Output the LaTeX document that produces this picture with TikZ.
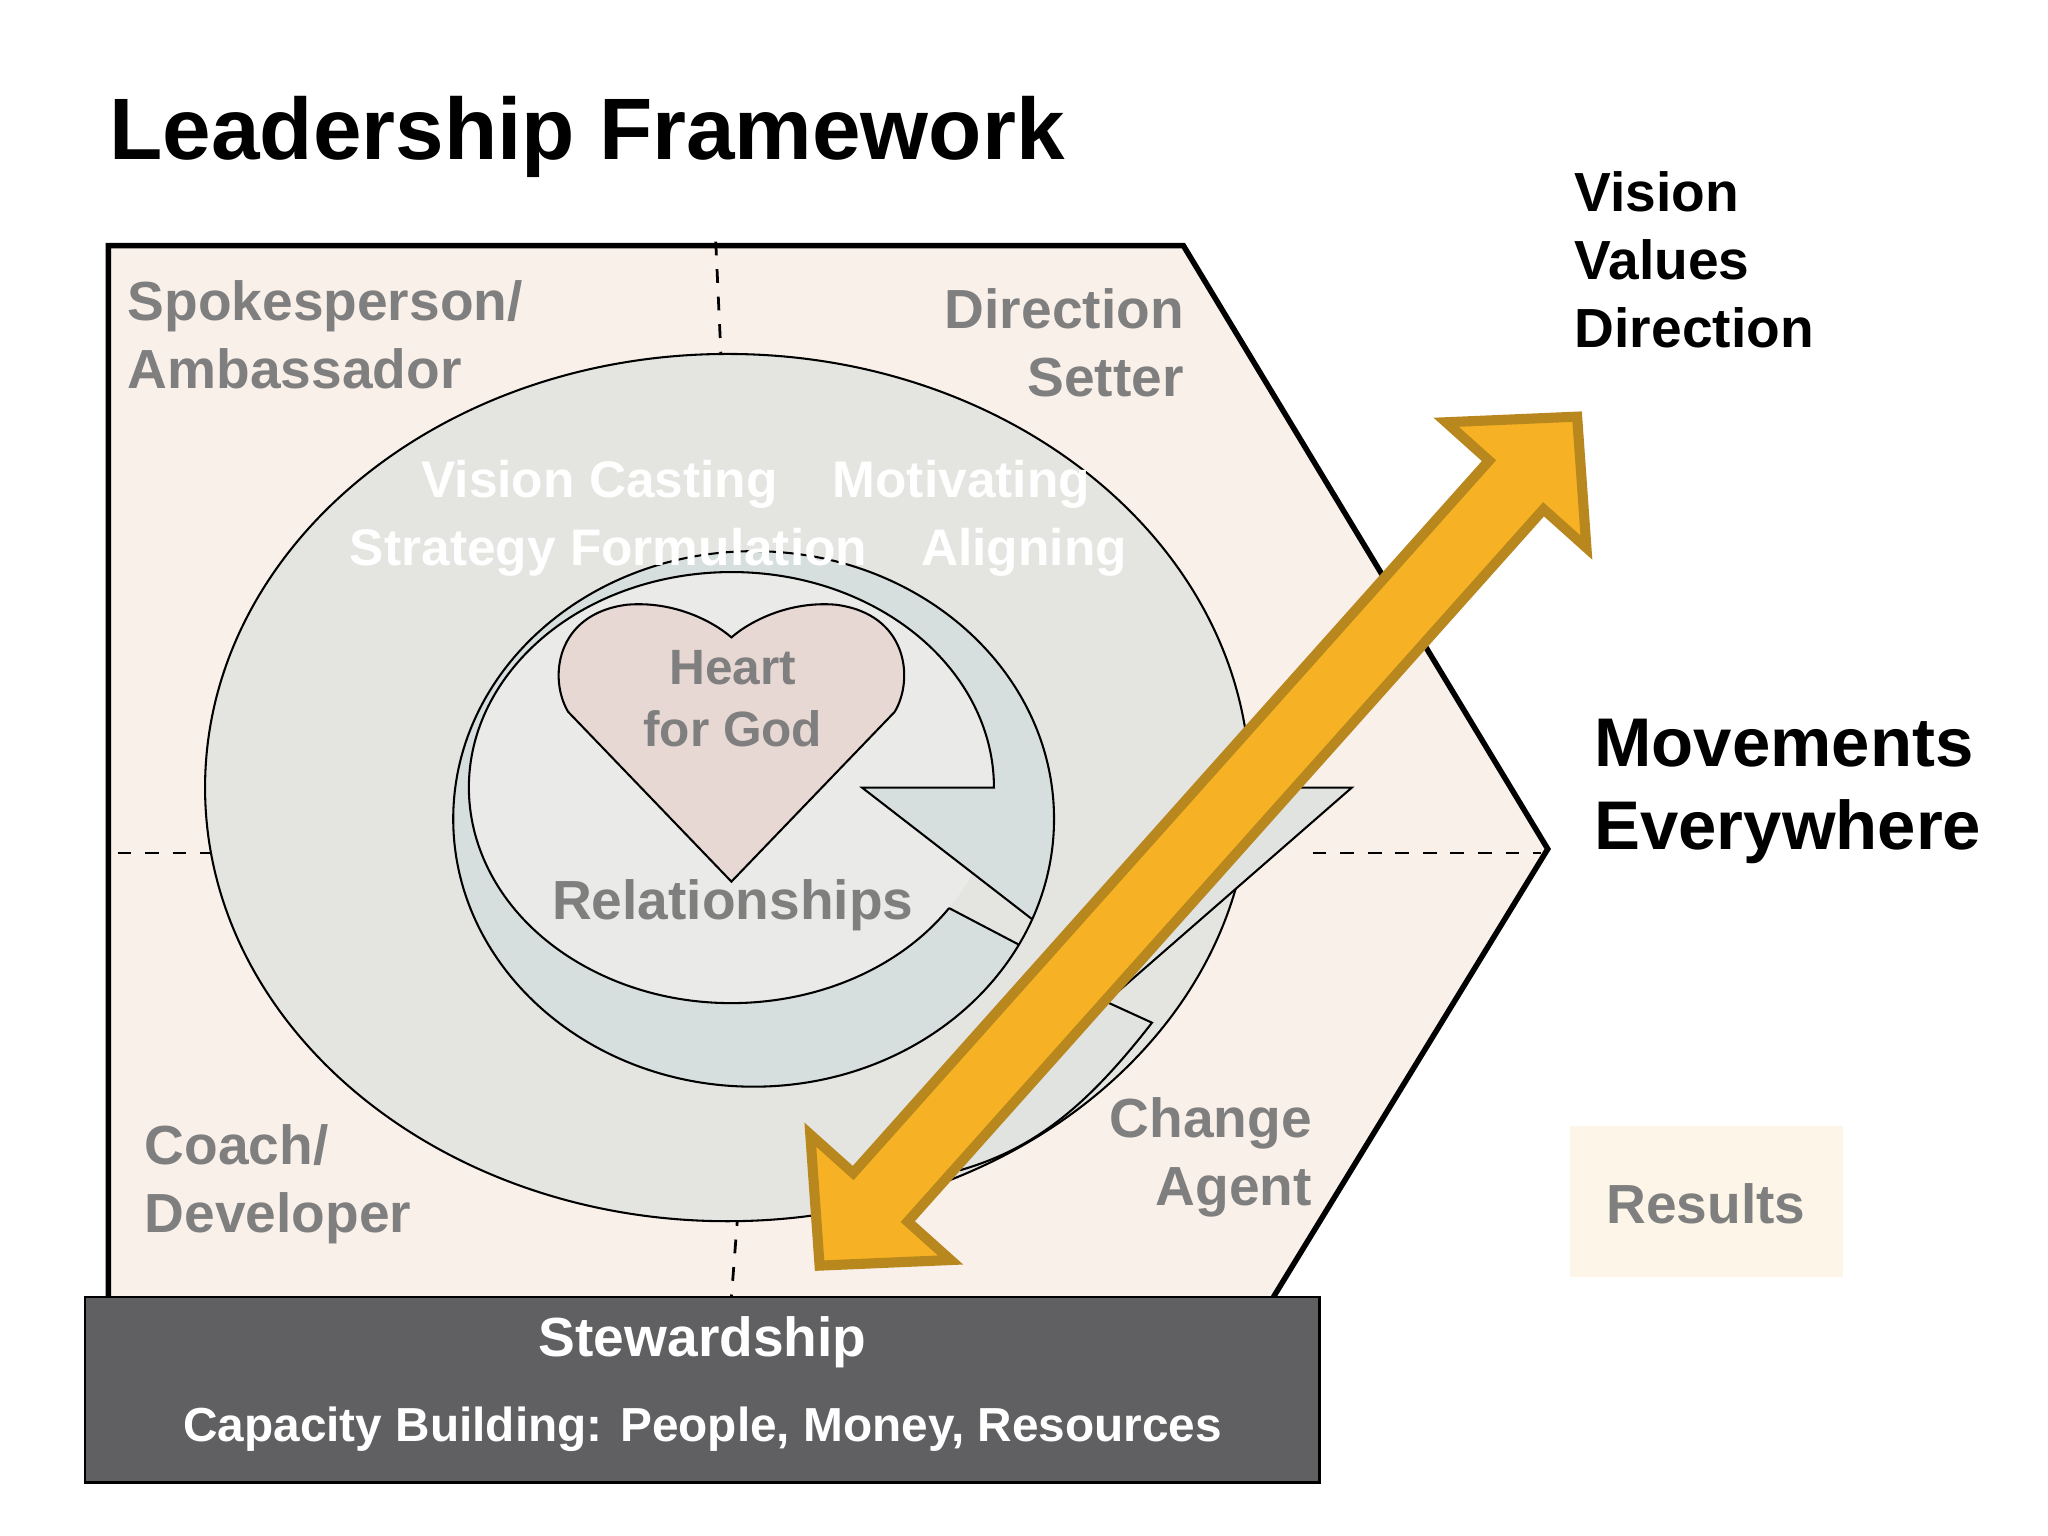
\documentclass[tikz,border=0pt]{standalone}
\usepackage{fontspec}
\setmainfont{Liberation Sans}
\usetikzlibrary{calc}
\definecolor{hexfill}{HTML}{FAF0EA}
\definecolor{bigell}{HTML}{E4E4E1}
\definecolor{bandc}{HTML}{D6DFDE}
\definecolor{innerc}{HTML}{EAEAE8}
\definecolor{heartc}{HTML}{E8D8D4}
\definecolor{labelgray}{HTML}{7F7F7F}
\definecolor{orangef}{HTML}{F6B224}
\definecolor{oranged}{HTML}{B8871D}
\definecolor{stew}{HTML}{605F61}
\definecolor{resc}{HTML}{FDF6E8}
\tikzset{
  glabel/.style={text=labelgray,font=\bfseries\fontsize{12}{14.8}\selectfont,inner sep=0pt},
  wlabel/.style={text=white,font=\bfseries\fontsize{11.2}{13}\selectfont,inner sep=0pt},
  blabel/.style={text=black,font=\bfseries\fontsize{12}{14.8}\selectfont,inner sep=0pt,align=left,anchor=north west},
  dashline/.style={dashed,line width=0.6pt},
  thinline/.style={line width=0.45pt}
}
\begin{document}
\begin{tikzpicture}[x=0.01cm,y=-0.01cm]
\useasboundingbox (0,0) rectangle (1568,1176);
\fill[white] (0,0) rectangle (1568,1176);
% hexagon frame
\draw[line width=1.2pt,fill=hexfill] (83,993) -- (83,188) -- (906,188) -- (1185,650) -- (975,993);
% dashed quadrant lines
\draw[dashline] (548,185) -- (552,272);
\draw[dashline] (565,928) -- (560,993);
\draw[dashline] (90,653) -- (250,653);
\draw[dashline] (1005,653) -- (1180,653);
% big ellipse
\draw[thinline,fill=bigell] (557,603) ellipse[x radius=400,y radius=332];
\fill[fill=bigell!80!bandc] (957,603) -- (1035,603) -- (847,767) -- (882,783) .. controls (830,850) and (790,880) .. (735,896) -- (900,700) -- cycle;
\draw[thinline] (957,603) -- (1035,603) -- (847,767) -- (882,783) .. controls (830,850) and (790,880) .. (735,896);
% small spiral arrow
\fill[innerc] (560,603) ellipse[x radius=201,y radius=165];
\fill[bandc] (560,603) ++(34:201 and 165) arc[start angle=34,end angle=360,x radius=201,y radius=165] -- (660,603) -- ($(577,627)+(22:230 and 205)$) arc[start angle=22,end angle=-332,x radius=230,y radius=205] -- cycle;
\draw[thinline] (560,603) ++(34:201 and 165) coordinate (tailin) arc[start angle=34,end angle=360,x radius=201,y radius=165] -- (660,603) -- ($(577,627)+(22:230 and 205)$);
\draw[thinline] (577,627) ellipse[x radius=230,y radius=205];
\draw[thinline] (tailin) -- ($(577,627)+(28:230 and 205)$);
% heart
\draw[thinline,fill=heartc] (560,675) -- (435,545) .. controls (420,520) and (425,470) .. (480,463) .. controls (515,460) and (545,475) .. (560,488) .. controls (575,475) and (605,460) .. (640,463) .. controls (695,470) and (700,520) .. (685,545) -- cycle;
% texts inside
\node[glabel,anchor=north west,align=left] (spk) at (97,214) {Spokesperson/\\Ambassador};
\node[glabel,anchor=north east,align=right] (dir) at (907,220) {Direction\\Setter};
\node[glabel,anchor=north west,align=left] (coach) at (110,860) {Coach/\\Developer};
\node[glabel,anchor=north east,align=right] (chg) at (1005,840) {Change\\Agent};
\node[glabel,font=\bfseries\fontsize{10.8}{13.4}\selectfont,align=center] (heart) at (561,535) {Heart\\for God};
\node[glabel] (rel) at (561,693) {Relationships};
\node[wlabel] (vc) at (459,371) {Vision Casting};
\node[wlabel] (sf) at (466,423) {Strategy Formulation};
\node[wlabel] (mo) at (736,371) {Motivating};
\node[wlabel] (al) at (784,423) {Aligning};
% orange double arrow
\draw[line width=2.2pt,draw=oranged,fill=orangef,line join=miter]
 (1207.5,319) -- (1214.6,419.3) -- (1181.8,389.9) -- (695.0,935.3) -- (727.8,964.7) -- (627.5,969) -- (620.4,868.7) -- (653.2,898.1) -- (1140,352.7) -- (1107.2,323.3) -- cycle;
% stewardship box
\draw[line width=0.6pt,fill=stew] (65,993) rectangle (1010,1135);
\node[text=white,font=\bfseries\fontsize{12}{14}\selectfont,inner sep=0pt] (stw) at (538,1028) {Stewardship};
\node[text=white,font=\bfseries\fontsize{10.4}{12}\selectfont,inner sep=0pt] (cap) at (538,1094) {Capacity Building: People, Money, Resources};
% title and right texts
\node[anchor=west,font=\bfseries\fontsize{19}{22}\selectfont,inner sep=0pt] (title) at (83,105) {Leadership Framework};
\node[blabel] (vvd) at (1205,131) {Vision\\Values\\Direction};
\node[blabel,font=\bfseries\fontsize{15}{18}\selectfont] (mov) at (1220,550) {Movements\\Everywhere};
\fill[resc] (1202,862) rectangle (1411,978);
\node[glabel] (res) at (1306,922) {Results};
\end{tikzpicture}
\end{document}
